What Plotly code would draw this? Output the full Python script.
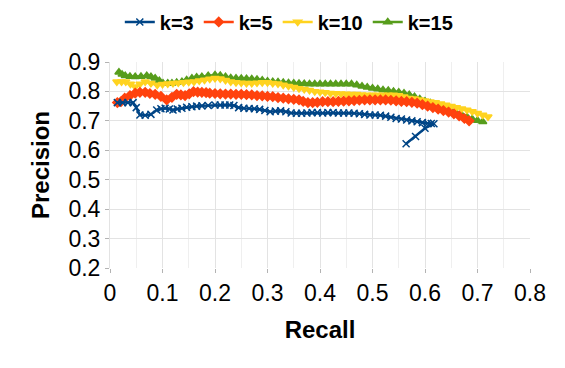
import plotly.graph_objs as go

# precision / recall curves
recall_k3 = [0.014, 0.024, 0.034, 0.044, 0.05, 0.057, 0.067, 0.078, 0.089, 0.097,
             0.105, 0.113, 0.12, 0.128, 0.137, 0.146, 0.156, 0.165, 0.175, 0.187,
             0.2, 0.21, 0.219, 0.228, 0.236, 0.245, 0.255, 0.265, 0.275, 0.285,
             0.295, 0.305, 0.315, 0.325, 0.335, 0.345, 0.355, 0.365, 0.375, 0.385,
             0.395, 0.405, 0.415, 0.425, 0.435, 0.445, 0.455, 0.465, 0.475, 0.485,
             0.495, 0.505, 0.515, 0.525, 0.535, 0.545, 0.555, 0.565, 0.575, 0.585,
             0.595, 0.605, 0.612, 0.617, 0.6, 0.582, 0.564]
precision_k3 = [0.762, 0.762, 0.762, 0.762, 0.745, 0.72, 0.719, 0.722, 0.737, 0.741,
                0.743, 0.74, 0.737, 0.74, 0.743, 0.746, 0.748, 0.75, 0.751, 0.752,
                0.754, 0.754, 0.754, 0.754, 0.752, 0.745, 0.743, 0.742, 0.741, 0.739,
                0.735, 0.731, 0.733, 0.734, 0.731, 0.727, 0.726, 0.726, 0.727, 0.728,
                0.728, 0.727, 0.728, 0.728, 0.727, 0.727, 0.727, 0.726, 0.724, 0.722,
                0.72, 0.72, 0.719, 0.716, 0.712, 0.708, 0.706, 0.703, 0.7, 0.697,
                0.694, 0.692, 0.691, 0.69, 0.675, 0.647, 0.622]

recall_k5 = [0.014, 0.021, 0.028, 0.038, 0.048, 0.057, 0.067, 0.076, 0.086, 0.097,
             0.108, 0.118, 0.127, 0.135, 0.143, 0.151, 0.159, 0.167, 0.175, 0.183,
             0.19, 0.2, 0.21, 0.22, 0.23, 0.24, 0.25, 0.26, 0.27, 0.28,
             0.29, 0.3, 0.31, 0.32, 0.33, 0.34, 0.35, 0.36, 0.368, 0.377,
             0.386, 0.395, 0.405, 0.415, 0.425, 0.435, 0.445, 0.455, 0.465, 0.475,
             0.485, 0.495, 0.505, 0.515, 0.525, 0.535, 0.545, 0.555, 0.565, 0.575,
             0.585, 0.595, 0.605, 0.615, 0.625, 0.635, 0.645, 0.655, 0.665, 0.675,
             0.684]
precision_k5 = [0.762, 0.765, 0.777, 0.786, 0.794, 0.797, 0.797, 0.793, 0.79, 0.783,
                0.771, 0.78, 0.79, 0.788, 0.786, 0.792, 0.799, 0.798, 0.797, 0.796,
                0.794, 0.793, 0.792, 0.791, 0.791, 0.79, 0.79, 0.789, 0.788, 0.786,
                0.785, 0.783, 0.782, 0.779, 0.777, 0.775, 0.773, 0.771, 0.766, 0.762,
                0.762, 0.763, 0.765, 0.765, 0.765, 0.766, 0.767, 0.768, 0.769, 0.77,
                0.771, 0.771, 0.771, 0.771, 0.771, 0.77, 0.768, 0.766, 0.765, 0.763,
                0.76, 0.755, 0.75, 0.745, 0.74, 0.735, 0.73, 0.724, 0.717, 0.708,
                0.7]

recall_k10 = [0.013, 0.022, 0.03, 0.039, 0.048, 0.057, 0.067, 0.078, 0.09, 0.1,
              0.11, 0.12, 0.13, 0.14, 0.15, 0.16, 0.17, 0.18, 0.19, 0.2,
              0.21, 0.22, 0.23, 0.24, 0.25, 0.26, 0.27, 0.28, 0.29, 0.3,
              0.31, 0.32, 0.33, 0.34, 0.35, 0.36, 0.37, 0.38, 0.39, 0.4,
              0.41, 0.42, 0.43, 0.44, 0.45, 0.46, 0.47, 0.48, 0.49, 0.5,
              0.51, 0.52, 0.53, 0.54, 0.55, 0.56, 0.57, 0.58, 0.59, 0.6,
              0.61, 0.62, 0.63, 0.64, 0.65, 0.66, 0.67, 0.68, 0.69, 0.7,
              0.71, 0.72]
precision_k10 = [0.833, 0.833, 0.833, 0.825, 0.816, 0.825, 0.833, 0.828, 0.822, 0.824,
                 0.826, 0.828, 0.829, 0.83, 0.832, 0.833, 0.836, 0.839, 0.842, 0.845,
                 0.843, 0.838, 0.833, 0.83, 0.829, 0.828, 0.828, 0.829, 0.83, 0.83,
                 0.828, 0.826, 0.822, 0.818, 0.814, 0.81, 0.807, 0.804, 0.8, 0.798,
                 0.796, 0.794, 0.793, 0.792, 0.791, 0.79, 0.79, 0.789, 0.788, 0.788,
                 0.788, 0.788, 0.788, 0.788, 0.786, 0.782, 0.777, 0.775, 0.772, 0.768,
                 0.765, 0.762, 0.758, 0.754, 0.75, 0.745, 0.741, 0.737, 0.732, 0.726,
                 0.72, 0.714]

recall_k15 = [0.017, 0.023, 0.029, 0.038, 0.048, 0.059, 0.07, 0.078, 0.086, 0.094,
              0.101, 0.11, 0.118, 0.127, 0.137, 0.146, 0.156, 0.165, 0.175, 0.187,
              0.2, 0.21, 0.22, 0.23, 0.24, 0.25, 0.26, 0.27, 0.28, 0.29,
              0.3, 0.31, 0.32, 0.33, 0.34, 0.35, 0.36, 0.37, 0.38, 0.39,
              0.4, 0.41, 0.42, 0.43, 0.44, 0.45, 0.46, 0.47, 0.48, 0.49,
              0.5, 0.51, 0.52, 0.53, 0.54, 0.55, 0.56, 0.57, 0.58, 0.59,
              0.6, 0.61, 0.62, 0.63, 0.64, 0.65, 0.66, 0.67, 0.68, 0.69,
              0.7, 0.71]
precision_k15 = [0.865, 0.858, 0.853, 0.851, 0.85, 0.851, 0.853, 0.85, 0.845, 0.836,
                 0.828, 0.828, 0.828, 0.83, 0.833, 0.839, 0.845, 0.848, 0.85, 0.853,
                 0.856, 0.854, 0.85, 0.846, 0.845, 0.844, 0.843, 0.842, 0.841, 0.838,
                 0.835, 0.833, 0.832, 0.83, 0.829, 0.828, 0.827, 0.826, 0.825, 0.825,
                 0.825, 0.825, 0.825, 0.825, 0.825, 0.825, 0.825, 0.822, 0.818, 0.814,
                 0.811, 0.808, 0.805, 0.803, 0.8, 0.797, 0.794, 0.789, 0.782, 0.774,
                 0.767, 0.761, 0.753, 0.745, 0.739, 0.733, 0.726, 0.72, 0.713, 0.706,
                 0.701, 0.697]

series = [
    ('k=3', recall_k3, precision_k3, '#004586', 'x-thin-open'),
    ('k=5', recall_k5, precision_k5, '#ff420e', 'diamond'),
    ('k=10', recall_k10, precision_k10, '#ffd320', 'triangle-down'),
    ('k=15', recall_k15, precision_k15, '#579d1c', 'triangle-up'),
]

data = []
for name, xs, ys, color, symbol in series:
    assert len(xs) == len(ys), name
    data.append(go.Scatter(
        x=xs, y=ys, name=name, mode='lines+markers',
        line=dict(color=color, width=2.5),
        marker=dict(symbol=symbol, size=7, color=color,
                    line=dict(color=color, width=1.5))
    ))

# draw the later series underneath, like the original
data = data[::-1]

FONT = 'Liberation Sans, Arial, sans-serif'

layout = go.Layout(
    width=565, height=368,
    # page body adds 8px, so margins are pulled back by that much
    margin=dict(l=102, r=43, t=54, b=108, autoexpand=False),
    paper_bgcolor='white', plot_bgcolor='white',
    font=dict(family=FONT, color='black'),
    showlegend=True,
    legend=dict(orientation='h', x=0.497, y=0.962, xref='container', yref='container',
                xanchor='center', yanchor='middle', traceorder='reversed',
                font=dict(size=20, family=FONT, weight='bold'),
                itemwidth=30),
    xaxis=dict(
        range=[0, 0.8], dtick=0.1, tickformat='~g', tickangle=0,
        showgrid=True, gridcolor='#e3e3e3', gridwidth=1,
        minor=dict(dtick=0.05, showgrid=True, gridcolor='#efefef'),
        zeroline=False, showline=False, automargin=False,
        ticks='outside', ticklen=4, tickcolor='#b3b3b3',
        tickfont=dict(size=23),
        title=dict(text='<b>Recall</b>', font=dict(size=24), standoff=16)
    ),
    yaxis=dict(
        range=[0.2, 0.9], dtick=0.1, tickformat='.1f',
        showgrid=True, gridcolor='#e3e3e3', gridwidth=1,
        zeroline=False, showline=True, linecolor='#e3e3e3',
        automargin=False,
        ticks='outside', ticklen=4, tickcolor='#b3b3b3',
        tickfont=dict(size=23),
        title=dict(text='<b>Precision</b>', font=dict(size=24), standoff=12)
    )
)

fig = go.Figure(data=data, layout=layout)
fig.write_html('out.html')
